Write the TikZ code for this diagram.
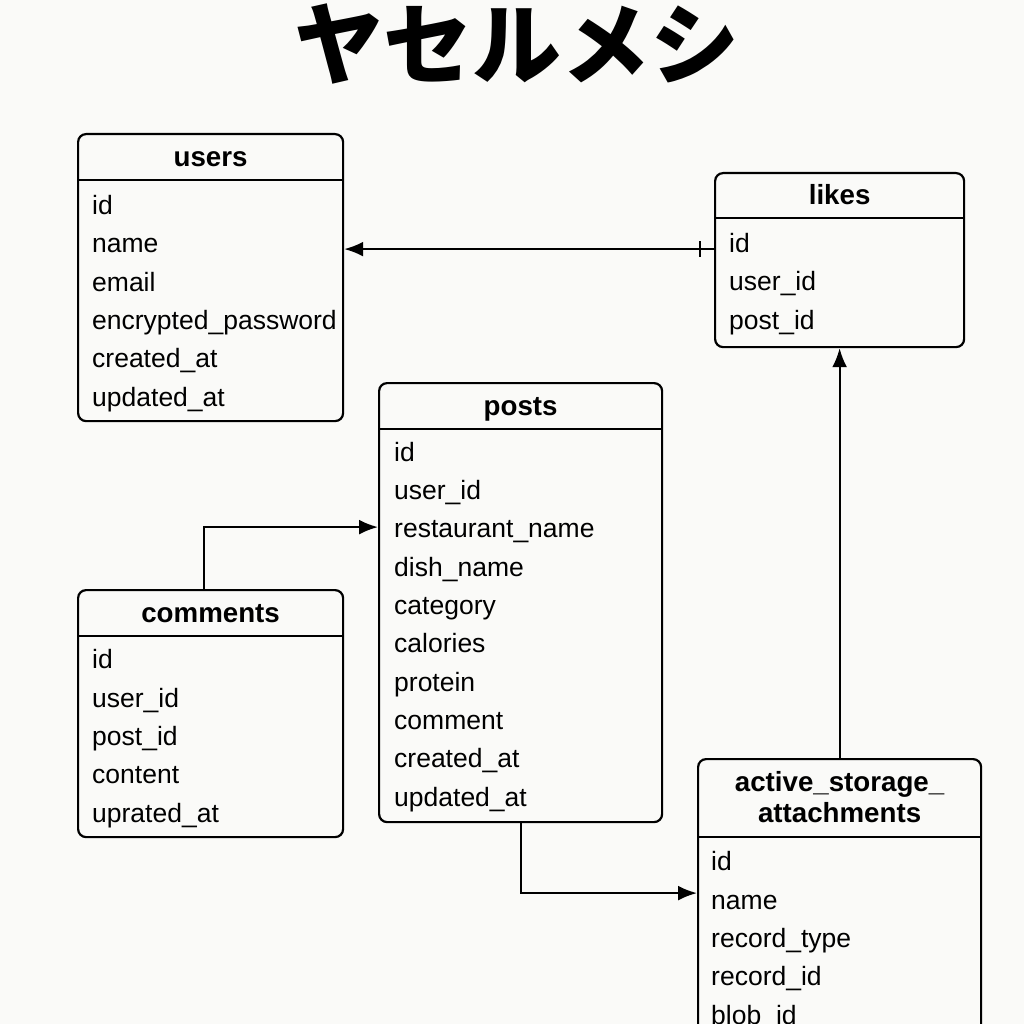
\documentclass[tikz,border=0pt]{standalone}
\usepackage{fontspec}
\setsansfont{Liberation Sans}
\newfontfamily\cjk{Noto Sans CJK JP}
\usepackage{xcolor}
\usetikzlibrary{arrows.meta,calc,decorations.markings,positioning}
\definecolor{paper}{RGB}{250,250,248}

\begin{document}
\begin{tikzpicture}[x=1pt,y=-1pt]

\tikzset{table/.style = {draw, fill=paper, line width=2.2pt, rounded corners=8pt, anchor=north west, inner sep=0pt}}
\tikzset{header/.style = {font=\sffamily\bfseries\fontsize{27.7}{31}\selectfont, anchor=base, inner sep=0pt}}
\tikzset{fields/.style = {font=\sffamily\fontsize{26.5}{38.3}\selectfont, align=left, anchor=base west, inner sep=0pt}}
\tikzset{edge/.style = {->, > = {Latex[length=19pt,width=15pt]}, line width=2.2pt}}
\tikzset{onetick/.style = {postaction={decorate}, decoration={markings, mark=at position 14pt with {\draw[-, line width=2pt] (0,-8pt) -- (0,8pt);}}}}

% page
\fill[paper] (0,0) rectangle (1024,1024);
\useasboundingbox (0,0) rectangle (1024,1024);

% title
\node[anchor=base, inner sep=0pt, font=\cjk\bfseries\fontsize{89}{89}\selectfont] (title) at (516.5,78) {ヤセルメシ};

% tables
\node[table, minimum width=265pt, minimum height=287pt] (users) at (77,133) {};
\node[table, minimum width=249pt, minimum height=174pt] (likes) at (714,172) {};
\node[table, minimum width=283pt, minimum height=439pt] (posts) at (378,382) {};
\node[table, minimum width=265pt, minimum height=247pt] (comments) at (77,589) {};
\node[table, minimum width=283pt, minimum height=300pt] (attach) at (697,758) {};

% header rules
\draw[line width=2.2pt] ($(users.north west)+(0,47)$) -- ($(users.north east)+(0,47)$);
\draw[line width=2.2pt] ($(likes.north west)+(0,46)$) -- ($(likes.north east)+(0,46)$);
\draw[line width=2.2pt] ($(posts.north west)+(0,47)$) -- ($(posts.north east)+(0,47)$);
\draw[line width=2.2pt] ($(comments.north west)+(0,47)$) -- ($(comments.north east)+(0,47)$);
\draw[line width=2.2pt] ($(attach.north west)+(0,79)$) -- ($(attach.north east)+(0,79)$);

% headers (base = last line)
\node[header] (users-title) at ($(users.north)+(0,34)$) {users};
\node[header] (likes-title) at ($(likes.north)+(0,33)$) {likes};
\node[header] (posts-title) at ($(posts.north)+(0,33)$) {posts};
\node[header] (comments-title) at ($(comments.north)+(0,33)$) {comments};
\node[header, align=center] (attach-title) at ($(attach.north)+(0,64)$) {active\_storage\_\\attachments};

% fields (base = last line)
\node[fields] (users-fields) at ($(users.north west)+(15,273)$) {id\\name\\email\\encrypted\_password\\created\_at\\updated\_at};
\node[fields] (likes-fields) at ($(likes.north west)+(15,157)$) {id\\user\_id\\post\_id};
\node[fields] (posts-fields) at ($(posts.north west)+(16,424)$) {id\\user\_id\\restaurant\_name\\dish\_name\\category\\calories\\protein\\comment\\created\_at\\updated\_at};
\node[fields] (comments-fields) at ($(comments.north west)+(15,233)$) {id\\user\_id\\post\_id\\content\\uprated\_at};
\node[fields] (attach-fields) at ($(attach.north west)+(14,266)$) {id\\name\\record\_type\\record\_id\\blob\_id};

%edges
\draw[edge, onetick] ([yshift=11pt]likes.west) -- ([yshift=11pt]likes.west -| users.east);
\draw[edge] ([xshift=-6.5pt]comments.north) |- ([yshift=75.5pt]posts.west);
\draw[edge] (posts.south) |- ([yshift=16pt]attach.west);
\draw[edge] (attach.north) -- (likes.south);
\end{tikzpicture}
\end{document}
